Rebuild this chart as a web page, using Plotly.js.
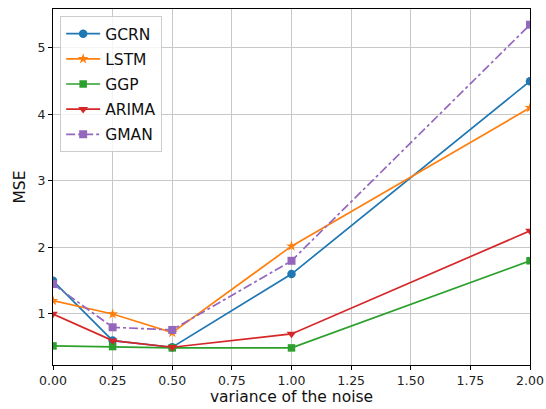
<!DOCTYPE html>
<html>
<head>
<meta charset="utf-8">
<script src="https://cdn.plot.ly/plotly-3.0.1.min.js"></script>
<style>
  html, body { margin: 0; padding: 0; background: #fff; }
  #chart { width: 546px; height: 409px; }
</style>
</head>
<body>
<div id="chart"></div>
<script>
// Noise variance levels on the x axis
const noiseVariance = [0, 0.25, 0.5, 1.0, 2.0];

// MSE per model
const gcrn  = [1.5, 0.6, 0.5, 1.6, 4.5];
const lstm  = [1.2, 1.0, 0.72, 2.02, 4.1];
const ggp   = [0.52, 0.51, 0.49, 0.49, 1.8];
const arima = [1.0, 0.6, 0.5, 0.7, 2.25];
const gman  = [1.45, 0.8, 0.76, 1.8, 5.35];

const seriesNames = ["GCRN", "LSTM", "GGP", "ARIMA", "GMAN"];
const xTicks = [0, 0.25, 0.5, 0.75, 1.0, 1.25, 1.5, 1.75, 2.0];
const xTickText = ["0.00", "0.25", "0.50", "0.75", "1.00", "1.25", "1.50", "1.75", "2.00"];
const yTicks = [1, 2, 3, 4, 5];

const styles = [
  { color: "#1f77b4", symbol: "circle", size: 8.5, dash: "solid" },
  { color: "#ff7f0e", symbol: "star", size: 8, dash: "solid" },
  { color: "#2ca02c", symbol: "square", size: 7.5, dash: "solid" },
  { color: "#d62728", symbol: "triangle-down", size: 8.5, dash: "solid" },
  { color: "#9467bd", symbol: "square", size: 8, dash: "dashdot" }
];

const values = [gcrn, lstm, ggp, arima, gman];

const traces = values.map((ys, i) => ({
  x: noiseVariance,
  y: ys,
  name: seriesNames[i],
  legendgroup: seriesNames[i],
  type: "scatter",
  mode: "lines+markers",
  line: { color: styles[i].color, width: 1.7, dash: styles[i].dash },
  marker: { color: styles[i].color, symbol: styles[i].symbol, size: styles[i].size }
}));

const axisFont = { family: "DejaVu Sans, sans-serif", size: 12.5, color: "#222" };
const titleFont = { family: "DejaVu Sans, sans-serif", size: 15.5, color: "#111" };

const layout = {
  width: 546,
  height: 409,
  margin: { l: 53, r: 16, t: 9, b: 44 },
  paper_bgcolor: "#fff",
  plot_bgcolor: "#fff",
  showlegend: true,
  legend: {
    x: 0.015, y: 0.98, xanchor: "left", yanchor: "top",
    bgcolor: "rgba(255,255,255,0.8)",
    bordercolor: "#cccccc", borderwidth: 1,
    font: { family: "DejaVu Sans, sans-serif", size: 15.5, color: "#111" },
    traceorder: "grouped",
    tracegroupgap: 2,
    itemwidth: 34
  },
  xaxis: {
    range: [0, 2],
    tickvals: xTicks,
    ticktext: xTickText,
    showgrid: true, gridcolor: "#c8c8c8", gridwidth: 1,
    zeroline: false,
    showline: true, linecolor: "#000", linewidth: 1, mirror: true,
    ticks: "outside", ticklen: 4, tickcolor: "#000",
    tickfont: axisFont,
    title: { text: "variance of the noise", font: titleFont, standoff: 4 }
  },
  yaxis: {
    range: [0.233, 5.586],
    tickvals: yTicks,
    showgrid: true, gridcolor: "#c8c8c8", gridwidth: 1,
    zeroline: false,
    showline: true, linecolor: "#000", linewidth: 1, mirror: true,
    ticks: "outside", ticklen: 4, tickcolor: "#000",
    tickfont: axisFont,
    title: { text: "MSE", font: titleFont, standoff: 8 }
  }
};

Plotly.newPlot("chart", traces, layout, { displayModeBar: false, staticPlot: true });
</script>
</body>
</html>
